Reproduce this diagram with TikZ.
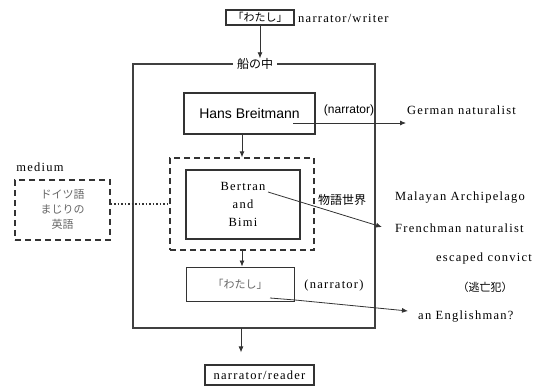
\documentclass[tikz,border=0pt]{standalone}
\usepackage{fontspec}
\setmainfont{Liberation Serif}
\newfontfamily\latf{Liberation Serif}[LetterSpace=10]
\newfontfamily\sansf{Liberation Sans}
\newfontfamily\jpf{Noto Sans CJK JP}
\usetikzlibrary{arrows.meta,positioning}

\begin{document}
\begin{tikzpicture}[
  x=1pt, y=-1pt,
  lbl/.style={font=\latf\fontsize{12.5}{18}\selectfont, inner sep=0pt},
  jlbl/.style={font=\jpf\fontsize{11}{15}\selectfont, inner sep=0pt},
  box/.style={draw=black!80, line width=1.2pt, inner sep=0pt, align=center},
  dbox/.style={draw=black!80, line width=1.3pt, dash pattern=on 6pt off 4pt, inner sep=0pt, align=center},
  arrow/.style={-{Latex[length=6pt,width=5pt]}, line width=0.8pt, black!80},
  dotline/.style={line width=1.4pt, dash pattern=on 1.5pt off 2pt, black!80}
]
\useasboundingbox (0,0) rectangle (557,386);

% writer and ship frame
\node[box, jlbl, minimum width=68pt, minimum height=15pt, line width=1.4pt] (writer) at (260,17.5) {「わたし」};
\node[lbl, anchor=west] (writerlbl) at (298,18) {narrator/writer};
\node[draw=black!75, line width=1.5pt, minimum width=242pt, minimum height=264pt, inner sep=0pt] (ship) at (254,196) {};
\node[jlbl, fill=white, inner xsep=4pt, font=\jpf\fontsize{12}{14}\selectfont] (shiplbl) at (255,64) {船の中};

\node[box, minimum width=131pt, minimum height=41pt, font=\sansf\fontsize{14}{16}\selectfont] (hans) at (249.5,113.5) {Hans Breitmann};
\node[font=\sansf\fontsize{12}{14}\selectfont, inner sep=0pt] (narr1) at (349,110) {(narrator)};
\node[lbl, anchor=west] (german) at (407,110) {German naturalist};

% story world
\node[dbox, minimum width=144pt, minimum height=92pt] (story) at (242,204) {};
\node[box, lbl, minimum width=114pt, minimum height=69pt, line width=1.1pt] (bb) at (243,204.5) {Bertran\\and\\Bimi};
\node[jlbl, font=\jpf\fontsize{12}{14}\selectfont] (world) at (342,200) {物語世界};
\node[lbl] (malay) at (460,198) {Malayan Archipelago};
\node[lbl, anchor=west] (french) at (395,228) {Frenchman naturalist};
\node[lbl] (convict) at (484,258) {escaped convict};
\node[jlbl] (tobo) at (485,287) {（逃亡犯）};

\node[box, jlbl, minimum width=108pt, minimum height=34pt, line width=0.9pt, text=black!60] (me) at (240,284) {「わたし」};
\node[lbl] (narr2) at (334,285) {(narrator)};
\node[lbl, anchor=west] (english) at (418,317) {an Englishman?};

\node[box, lbl, minimum width=109pt, minimum height=20pt] (reader) at (259.5,375) {narrator/reader};

% medium
\node[lbl] (mediumlbl) at (40,167) {medium};
\node[dbox, jlbl, minimum width=95pt, minimum height=60pt, text=black!60] (medium) at (62.5,210) {ドイツ語\\まじりの\\英語};

% connectors
\coordinate (outTop) at (241,328);
\coordinate (hansEnd) at (293,123);
\coordinate (germanTip) at (406,123);
\coordinate (bbStart) at (268,192);
\coordinate (frenchTip) at (382,227);
\coordinate (meStart) at (270,298);
\coordinate (meBend) at (295,300);
\coordinate (englishTip) at (408,311);

\draw[arrow] (writer.south) -- (writer.south |- shiplbl.north);
\draw[arrow] (story.north |- hans.south) -- (story.north);
\draw[arrow] (story.south) -- (story.south |- me.north);
\draw[arrow, shorten >=12pt] (outTop) -- (outTop |- reader.north);
\draw[arrow] (hansEnd) -- (germanTip);
\draw[arrow] (bbStart) -- (frenchTip);
\draw[arrow] (meStart) -- (meBend) -- (englishTip);
\draw[dotline] (medium.east |- story.west) -- (story.west);
\end{tikzpicture}
\end{document}
